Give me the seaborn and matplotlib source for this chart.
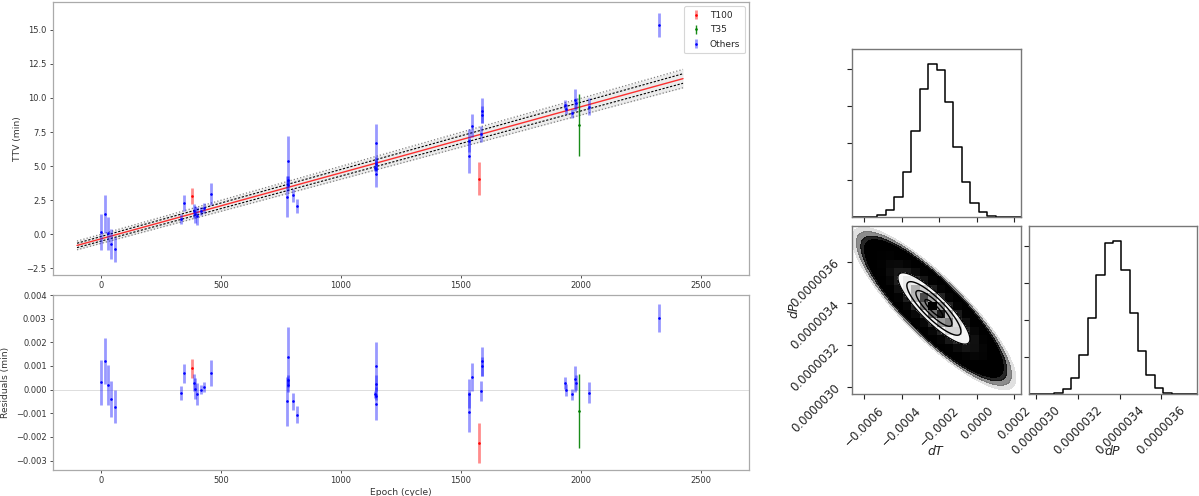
import numpy as np
import pandas as pd
import seaborn as sns
import matplotlib.pyplot as plt
from matplotlib.colors import LinearSegmentedColormap, ListedColormap, to_rgba
from matplotlib.ticker import FuncFormatter, FixedLocator

# ------------------------------------------------------------
# TTV data (epoch in cycles, TTV in minutes)
# ------------------------------------------------------------
t100_epoch = [379, 1573]
t100_ttv = [2.80, 4.08]
t100_err = [0.60, 1.20]
t100_res = [0.00091, -0.00225]
t100_res_err = [0.00040, 0.00084]

t35_epoch = [1990]
t35_ttv = [8.04]
t35_err = [2.27]
t35_res = [-0.00090]
t35_res_err = [0.00157]

others_epoch = [0, 15, 29, 43, 57, 333, 347, 387, 390, 402, 417, 430, 458,
                776, 778, 780, 781, 798, 815, 1143, 1144, 1145, 1146, 1147,
                1532, 1534, 1547, 1585, 1587, 1588, 1935, 1937, 1963, 1976,
                1978, 2033, 2326]
others_ttv = [0.15, 1.45, 0.05, -0.70, -1.12, 1.08, 2.31, 1.70, 1.45, 1.35, 1.70, 1.90, 2.92,
              2.75, 3.95, 3.60, 5.40, 2.85, 2.07, 4.85, 4.77, 4.45, 5.18, 6.66,
              6.86, 5.75, 7.96, 7.35, 9.07, 8.78, 9.51, 9.20, 8.87, 9.86,
              9.60, 9.37, 15.34]
others_err = [1.35, 1.40, 1.20, 1.10, 0.90, 0.37, 0.60, 0.50, 0.62, 0.65, 0.30, 0.38, 0.80,
              1.50, 0.30, 0.40, 1.80, 0.50, 0.50, 0.20, 0.20, 1.00, 0.50, 1.45,
              0.85, 1.23, 0.83, 0.60, 0.90, 0.60, 0.35, 0.35, 0.32, 0.80,
              0.40, 0.62, 0.87]
others_res = [0.00032, 0.00120, 0.00018, -0.00040, -0.00073, -0.00014, 0.00070, 0.00030, 0.00004,
              -0.00018, 0.00000, 0.00011, 0.00070,
              -0.00050, 0.00042, 0.00018, 0.00138, -0.00050, -0.00106, -0.00020, -0.00028,
              -0.00060, 0.00025, 0.00100,
              -0.00017, -0.00094, 0.00053, -0.00006, 0.00120, 0.00098, 0.00028, 0.00000,
              -0.00020, 0.00045, 0.00030, -0.00013, 0.00304]
others_res_err = [0.00095, 0.00097, 0.00085, 0.00075, 0.00070, 0.00028, 0.00040, 0.00035, 0.00043,
                  0.00045, 0.00020, 0.00022, 0.00055,
                  0.00104, 0.00020, 0.00028, 0.00125, 0.00035, 0.00035, 0.00014, 0.00014,
                  0.00070, 0.00035, 0.00100,
                  0.00060, 0.00085, 0.00058, 0.00042, 0.00062, 0.00042, 0.00025, 0.00025,
                  0.00022, 0.00055, 0.00030, 0.00045, 0.00060]

# linear ephemeris fit and its uncertainty envelopes
fit_epoch = [-100, 2425]
fit_best = [-0.83, 11.42]
fit_in_lo = [-0.99, 11.08]
fit_in_hi = [-0.67, 11.78]
fit_out_lo = [-1.15, 10.75]
fit_out_hi = [-0.51, 12.10]

# ------------------------------------------------------------
# posterior (corner plot)
# ------------------------------------------------------------
dT_lim = [-0.000664, 0.000236]
dP_lim = [2.965e-6, 3.770e-6]
dT_counts = [0, 0, 0, 54, 189, 531, 1233, 2340, 3483, 4140,
             3996, 3105, 1890, 936, 369, 126, 36, 9, 0, 0]
dP_counts = [0, 0, 0, 27, 126, 423, 1062, 2052, 3222, 4086,
             4131, 3357, 2196, 1152, 504, 162, 36, 0, 0, 0]
dT_mean, dT_sd = -0.000228, 0.000096
dP_mean, dP_sd = 3.375e-6, 8.56e-8
rho = -0.86
sigma_levels = [0.5, 1.0, 1.5, 2.0]

# ------------------------------------------------------------
sns.set_style("white")
plt.rcParams["font.family"] = ["DejaVu Sans"]
plt.rcParams["axes.unicode_minus"] = True

fig = plt.figure(figsize=(11.99, 4.96), dpi=100)
ax1 = fig.add_axes([0.0442, 0.4456, 0.5805, 0.5504])
ax2 = fig.add_axes([0.0442, 0.0524, 0.5805, 0.3528])

groups = [
    ("T100", "red", 0.45, 2.0, t100_epoch, t100_ttv, t100_err, t100_res, t100_res_err),
    ("T35", "green", 0.9, 1.0, t35_epoch, t35_ttv, t35_err, t35_res, t35_res_err),
    ("Others", "blue", 0.4, 2.0, others_epoch, others_ttv, others_err, others_res, others_res_err),
]

# model lines
ax1.fill_between(fit_epoch, fit_out_lo, fit_out_hi, color="gray", alpha=0.15, lw=0)
for lo_hi in (fit_out_lo, fit_out_hi):
    ax1.plot(fit_epoch, lo_hi, ls=":", color="gray", lw=0.9)
for lo_hi in (fit_in_lo, fit_in_hi):
    ax1.plot(fit_epoch, lo_hi, ls="--", color="black", lw=0.8, dashes=(2, 1.5))
ax1.plot(fit_epoch, fit_best, color="red", lw=1.0, alpha=0.8)

for name, col, a, lw, ep, ttv, err, res, rerr in groups:
    ax1.errorbar(ep, ttv, yerr=err, fmt=".", ms=1.8, color=col,
                 ecolor=to_rgba(col, a), elinewidth=lw, label=name)
    ax2.errorbar(ep, res, yerr=rerr, fmt=".", ms=1.8, color=col,
                 ecolor=to_rgba(col, a), elinewidth=lw)

ax2.axhline(0, color="#dddddd", lw=0.7, zorder=0)

ax1.set_xlim(-200, 2700)
ax1.set_ylim(-3.0, 17.05)
ax2.set_xlim(-200, 2700)
ax2.set_ylim(-0.0034, 0.0040)
ax1.set_yticks(np.arange(-2.5, 15.1, 2.5))
for ax in (ax1, ax2):
    ax.set_xticks([0, 500, 1000, 1500, 2000, 2500])
    ax.tick_params(labelsize=6.0, length=2.5, width=0.6, colors="#333333",
                   left=True, bottom=True, pad=2)
    for s in ax.spines.values():
        s.set_color("#aaaaaa")
        s.set_linewidth(0.9)

ax1.set_ylabel("TTV (min)", fontsize=6.6, color="#333333")
ax2.set_ylabel("Residuals (min)", fontsize=6.6, color="#333333")
ax2.set_xlabel("Epoch (cycle)", fontsize=6.6, color="#333333")
ax1.yaxis.set_label_coords(-0.045, 0.5)
ax2.yaxis.set_label_coords(-0.062, 0.5)
ax2.xaxis.set_label_coords(0.5, -0.103)

leg = ax1.legend(loc="upper right", fontsize=6.5, frameon=True, borderpad=0.5,
                 handlelength=1.5, labelspacing=0.6)
leg.get_frame().set_edgecolor("#cccccc")
leg.get_frame().set_linewidth(0.8)

# ------------------------------------------------------------
# corner plot
# ------------------------------------------------------------
axT = fig.add_axes([0.7106, 0.5625, 0.141, 0.3387])
axTP = fig.add_axes([0.7106, 0.2056, 0.141, 0.3387])
axP = fig.add_axes([0.8582, 0.2056, 0.140, 0.3387])

nb = len(dT_counts)
dT_edges = np.linspace(dT_lim[0], dT_lim[1], nb + 1)
dP_edges = np.linspace(dP_lim[0], dP_lim[1], nb + 1)
dT_cent = 0.5 * (dT_edges[1:] + dT_edges[:-1])
dP_cent = 0.5 * (dP_edges[1:] + dP_edges[:-1])

hist_T = pd.DataFrame({"val": dT_cent, "n": dT_counts})
hist_P = pd.DataFrame({"val": dP_cent, "n": dP_counts})
sns.histplot(data=hist_T, x="val", weights="n", bins=list(dT_edges), element="step",
             fill=False, color="black", linewidth=1.1, ax=axT)
sns.histplot(data=hist_P, x="val", weights="n", bins=list(dP_edges), element="step",
             fill=False, color="black", linewidth=1.1, ax=axP)
axT.set_ylim(0, 1.1 * max(dT_counts))
axP.set_ylim(0, 1.1 * max(dP_counts))
axT.set_xlim(dT_lim)
axP.set_xlim(dP_lim)


def gauss2d(x, y):
    u = (x - dT_mean) / dT_sd
    v = (y - dP_mean) / dP_sd
    return np.exp(-0.5 * (u * u - 2 * rho * u * v + v * v) / (1 - rho ** 2))


gx, gy = np.meshgrid(np.linspace(dT_lim[0], dT_lim[1], 400),
                     np.linspace(dP_lim[0], dP_lim[1], 400))
dens = gauss2d(gx, gy)
lev = lambda r: np.exp(-0.5 * r * r)

# the sample cloud (solid core with a thin speckled-looking fringe)
axTP.contourf(gx, gy, dens, [lev(4.55), lev(4.3)], colors=[(0, 0, 0, 0.12)])
axTP.contourf(gx, gy, dens, [lev(4.3), lev(4.05)], colors=[(0, 0, 0, 0.45)])
axTP.contourf(gx, gy, dens, [lev(4.05), lev(3.85)], colors=[(0, 0, 0, 0.85)])
axTP.contourf(gx, gy, dens, [lev(3.85), 2.0], colors=["black"])
# white inside the outer contour
axTP.contourf(gx, gy, dens, [lev(max(sigma_levels)), 2.0],
              cmap=ListedColormap(["white"]))
# binned density
bx, by = np.meshgrid(dT_cent, dP_cent)
H = gauss2d(bx, by)
dcmap = LinearSegmentedColormap.from_list("dens", [(0, 0, 0, 1), (1, 1, 1, 0)])
axTP.pcolormesh(dT_edges, dP_edges, H.max() - H, cmap=dcmap)
axTP.contour(gx, gy, dens, sorted(lev(r) for r in sigma_levels),
             colors="black", linewidths=1.0)
axTP.set_xlim(dT_lim)
axTP.set_ylim(dP_lim)

fmt_T = FuncFormatter(lambda v, p: ("%.4f" % (0.0 if abs(v) < 1e-9 else v)).replace("-", "\u2212"))
fmt_P = FuncFormatter(lambda v, p: "%.7f" % v)
T_ticks = [-0.0006, -0.0004, -0.0002, 0.0, 0.0002]
P_ticks = [3.0e-6, 3.2e-6, 3.4e-6, 3.6e-6]

axT.xaxis.set_major_locator(FixedLocator(T_ticks))
axT.yaxis.set_major_locator(FixedLocator([1000, 2000, 3000, 4000]))
axP.yaxis.set_major_locator(FixedLocator([1000, 2000, 3000, 4000]))
axT.set_xticklabels([])
axT.set_yticklabels([])
axP.set_yticklabels([])

axTP.xaxis.set_major_locator(FixedLocator(T_ticks))
axTP.xaxis.set_major_formatter(fmt_T)
axTP.yaxis.set_major_locator(FixedLocator(P_ticks))
axTP.yaxis.set_major_formatter(fmt_P)
axP.xaxis.set_major_locator(FixedLocator(P_ticks))
axP.xaxis.set_major_formatter(fmt_P)

for ax in (axT, axTP, axP):
    ax.set_xlabel("")
    ax.set_ylabel("")
    ax.tick_params(labelsize=8.5, length=3.5, width=0.8, colors="#222222",
                   left=True, bottom=True)
    for s in ax.spines.values():
        s.set_color("#777777")
        s.set_linewidth(1.0)

for lab in axTP.get_xticklabels() + axTP.get_yticklabels() + axP.get_xticklabels():
    lab.set_rotation(45)

axTP.set_xlabel("$dT$", fontsize=9)
axTP.set_ylabel("$dP$", fontsize=9)
axP.set_xlabel("$dP$", fontsize=9)
axTP.xaxis.set_label_coords(0.5, -0.3)
axTP.yaxis.set_label_coords(-0.3, 0.5)
axP.xaxis.set_label_coords(0.5, -0.3)

plt.savefig("out.png", dpi=100)
